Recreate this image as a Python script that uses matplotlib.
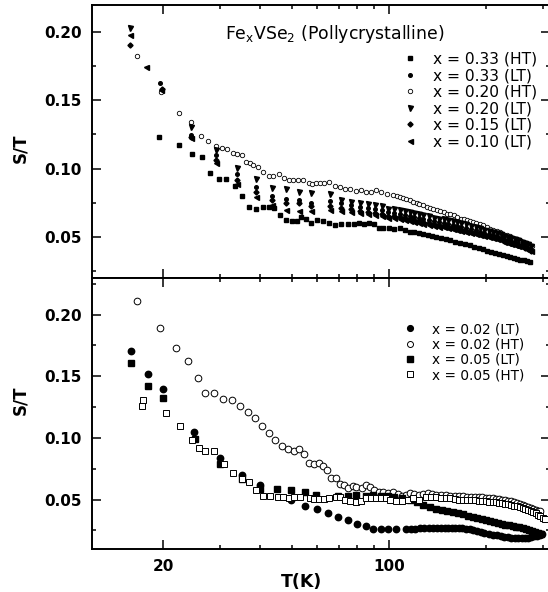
import matplotlib
matplotlib.use("Agg")
import matplotlib.pyplot as plt
from matplotlib.ticker import NullFormatter

# ---- top panel data : Fe_x VSe2, T (K) vs S/T ----
# x = 0.33 (HT), filled squares
ht033 = [(19.4, .1232), (22.3, .1176), (24.6, .1110), (26.4, .1081), (28.0, .0968), (29.7, .0921),
         (31.2, .0921), (33.3, .0872), (35.2, .0796), (36.8, .0718), (38.7, .0701), (40.7, .0718),
         (42.5, .0718), (44.0, .0708), (45.9, .0662), (48.0, .0620), (50.0, .0613), (51.8, .0613),
         (53.6, .0645), (55.3, .0632), (57.6, .0600), (60, .0625), (62.6, .0613), (65.5, .0600),
         (68, .0583), (71, .0590), (74.5, .0592), (78, .0596), (81, .0600), (84, .0596), (87, .0598),
         (90, .0590), (93, .0565), (96, .0562), (100, .0560), (104, .0558), (108, .0563), (112, .0548),
         (116, .0536), (120, .0533), (124, .0526), (128, .0522), (132, .0515), (136, .0503),
         (140, .0497), (145, .0488), (150, .0480), (155, .0472), (160, .0464), (166, .0455),
         (172, .0446), (178, .0436), (184, .0426), (190, .0416), (196, .0406), (202, .0397),
         (208, .0389), (214, .0381), (220, .0372), (226, .0364), (232, .0357), (238, .0351),
         (244, .0346), (250, .0339), (256, .0331), (262, .0325), (268, .0318), (274, .0313)]

# x = 0.20 (HT), open circles
ht020 = [(16.6, .1826), (19.7, .1563), (22.4, .1404), (24.3, .1343), (26.1, .1238), (27.6, .1203),
         (29.2, .1164), (30.4, .1152), (31.5, .1140), (32.8, .1115), (33.9, .1105), (35.0, .1098),
         (36.1, .1049), (37.1, .1037), (38.0, .1025), (39.2, .1012), (40.7, .0976), (42.4, .0944),
         (43.9, .0944), (45.6, .0956), (47.2, .0927), (48.9, .0914), (50.6, .0914), (52.3, .0914),
         (54.2, .0919), (56.5, .0890), (58.0, .0885), (59.6, .0895), (61.0, .0890), (63.2, .0895),
         (65.3, .0902), (68.0, .0875), (70.5, .0865), (73.3, .0853), (76.0, .0846), (79.0, .0836),
         (82.0, .0841), (85.0, .0828), (88.0, .0828), (91.0, .0841), (94.5, .0828), (99.0, .0816),
         (103, .0804), (106, .0797), (108, .0791), (111, .0785), (113, .0779), (116, .0768),
         (119, .0755), (122, .0748), (124.5, .0742), (128, .0730), (131, .0718), (134, .0712),
         (137.5, .0706), (141, .0697), (144, .0689), (148, .0679), (152, .0669), (155, .0663),
         (159, .0657), (163, .0645), (167, .0632), (171, .0626), (175, .0620), (179, .0614),
         (183, .0608), (187, .0602), (192, .0596), (196, .0584), (201, .0571), (206, .0559),
         (211, .0547), (216, .0541), (221, .0534), (226, .0522), (232, .0510), (237, .0502),
         (243, .0493), (249, .0483), (255, .0473), (261, .0463), (267, .0453), (272, .0442),
         (277, .0432)]

# low temperature (LT) samples, measured on a common temperature grid above 100 K
T_top_hi = [104, 108, 112, 116, 120, 124, 128, 133, 138, 143, 148, 153, 158, 163, 168, 174, 180,
            186, 192, 198, 204, 210, 216, 222, 228, 234, 240, 246, 252, 258, 264, 270, 276]

lt020 = [(15.8, .2029), (24.3, .1301), (29.2, .1135), (33.8, .1007), (38.7, .0926), (43.4, .0857),
         (47.9, .0846), (52.7, .0828), (57.5, .0822), (65.6, .0816), (71.3, .0767), (76.6, .0755),
         (81.3, .0745), (86.3, .0737), (90.5, .0730), (95.0, .0723), (99.5, .0706)]
lt020_hi = [.0700, .0693, .0688, .0681, .0672, .0665, .0657, .0648, .0640, .0632, .0626, .0620,
            .0612, .0605, .0598, .0590, .0580, .0570, .0560, .0552, .0542, .0533, .0525, .0516,
            .0507, .0498, .0490, .0482, .0472, .0463, .0452, .0443, .0432]

lt033 = [(19.6, .1629), (24.3, .1245), (29.2, .1098), (33.8, .0958), (38.7, .0865), (43.4, .0800),
         (47.9, .0776), (52.7, .0772), (57.5, .0750), (65.6, .0765), (71.3, .0745), (76.6, .0735),
         (81.3, .0720), (86.3, .0712), (90.5, .0705), (95.0, .0695), (99.5, .0680)]
lt033_hi = [.0672, .0665, .0658, .0650, .0642, .0635, .0628, .0620, .0612, .0604, .0597, .0590,
            .0583, .0576, .0569, .0561, .0553, .0545, .0537, .0528, .0519, .0510, .0501, .0493,
            .0484, .0475, .0466, .0457, .0448, .0439, .0428, .0415, .0400]

lt015 = [(15.8, .1907), (19.8, .1580), (24.3, .1230), (29.2, .1060), (33.8, .0914), (38.7, .0828),
         (43.4, .0769), (47.9, .0750), (52.7, .0745), (57.5, .0723), (65.6, .0725), (71.3, .0712),
         (76.6, .0700), (81.3, .0690), (86.3, .0682), (90.5, .0675), (95.0, .0668), (99.5, .0655)]
lt015_hi = [.0648, .0641, .0634, .0627, .0620, .0613, .0606, .0599, .0592, .0585, .0578, .0571,
            .0564, .0557, .0550, .0543, .0535, .0527, .0519, .0511, .0503, .0495, .0487, .0479,
            .0471, .0463, .0455, .0447, .0439, .0430, .0420, .0408, .0395]

lt010 = [(15.8, .1980), (17.7, .1743), (19.7, .1575), (24.3, .1225), (29.2, .1037), (33.8, .0885),
         (38.7, .0791), (43.4, .0730), (47.9, .0699), (52.7, .0690), (57.5, .0690), (65.6, .0693),
         (71.3, .0690), (76.6, .0680), (81.3, .0672), (86.3, .0665), (90.5, .0658), (95.0, .0650),
         (99.5, .0640)]
lt010_hi = [.0634, .0627, .0620, .0614, .0607, .0600, .0594, .0587, .0580, .0574, .0567, .0561,
            .0554, .0548, .0541, .0534, .0527, .0520, .0512, .0504, .0496, .0488, .0480, .0472,
            .0464, .0456, .0448, .0440, .0432, .0423, .0414, .0403, .0392]

# ---- bottom panel data ----
lt002 = [(15.9, .1706), (17.9, .1519), (19.96, .1398), (24.9, .1048), (29.9, .0839), (35.0, .0700),
         (39.8, .0619), (49.9, .0498), (54.9, .0450), (59.9, .0423), (64.8, .0391), (69.8, .0362),
         (75.0, .0337), (79.8, .0305), (84.8, .0284), (89.6, .0266), (94.8, .0262), (99.8, .0262),
         (105, .0265), (113, .0262), (117, .0262), (121, .0264), (125, .0267), (129, .0270),
         (133, .0272), (137, .0274), (141, .0274), (145, .0274), (149, .0272), (153, .0272),
         (157, .0272), (161, .0270), (165, .0270), (169, .0268), (173, .0266), (178, .0260),
         (183, .0253), (188, .0246), (193, .0238), (198, .0231), (204, .0224), (210, .0217),
         (216, .0210), (222, .0204), (228, .0199), (234, .0195), (240, .0192), (246, .0190),
         (252, .0189), (258, .0189), (264, .0190), (270, .0192), (276, .0196), (282, .0202),
         (288, .0209), (294, .0216), (298, .0220)]

ht002 = [(16.6, .2109), (19.5, .1894), (21.9, .1728), (23.9, .1626), (25.6, .1486), (27.0, .1362),
         (28.7, .1365), (30.6, .1317), (32.6, .1304), (34.7, .1258), (36.6, .1210), (38.6, .1161),
         (40.5, .1094), (42.4, .1040), (44.5, .0987), (46.7, .0933), (48.7, .0909), (50.8, .0895),
         (52.7, .0909), (54.7, .0869), (56.6, .0799), (58.6, .0788), (60.9, .0799), (62.5, .0775),
         (64.5, .0740), (66.4, .0678), (68.5, .0678), (70.5, .0627), (72.7, .0619), (74.8, .0593),
         (77.2, .0612), (79.4, .0606), (82.4, .0593), (84.9, .0619), (87.5, .0600), (90.0, .0579),
         (93.2, .0560), (96.0, .0563), (99.5, .0555), (103, .0560), (107, .0545), (110, .0531),
         (113, .0540), (116, .0555), (120, .0545), (124, .0540), (128, .0548), (132, .0552),
         (136, .0545), (140, .0540), (145, .0538), (150, .0535), (155, .0532), (160, .0530),
         (165, .0528), (170, .0527), (175, .0525), (180, .0525), (185, .0522), (190, .0520),
         (195, .0518), (200, .0515), (205, .0512), (210, .0510), (215, .0507), (220, .0503),
         (225, .0500), (230, .0495), (235, .0490), (240, .0485), (245, .0480), (250, .0473),
         (255, .0466), (260, .0458), (265, .0450), (270, .0442), (275, .0433), (280, .0425),
         (285, .0418), (290, .0410), (295, .0404)]

lt005 = [(15.9, .1604), (17.9, .1424), (19.96, .1325), (25.0, .0995), (29.9, .0788), (35.0, .0665),
         (39.8, .0585), (45.0, .0585), (49.7, .0580), (54.9, .0565), (59.6, .0535), (69.6, .0530),
         (74.8, .0530), (79.4, .0539), (84.9, .0530), (89.4, .0539), (94.7, .0530), (99.7, .0528),
         (104, .0525), (110, .0515), (116, .0498), (122, .0478), (128, .0460), (134, .0442),
         (140, .0428), (146, .0416), (152, .0405), (158, .0396), (164, .0388), (170, .0380),
         (176, .0370), (182, .0360), (188, .0350), (194, .0340), (200, .0332), (206, .0325),
         (212, .0318), (218, .0311), (224, .0304), (230, .0298), (236, .0293), (242, .0288),
         (248, .0282), (254, .0276), (260, .0270), (266, .0263), (272, .0256), (278, .0248),
         (284, .0240), (290, .0232), (296, .0224)]

ht005 = [(17.3, .1309), (17.2, .1255), (20.4, .1201), (22.6, .1097), (24.5, .0987), (25.8, .0915),
         (27.0, .0895), (28.7, .0895), (30.8, .0788), (32.9, .0713), (35.0, .0665), (36.8, .0641),
         (38.7, .0579), (40.7, .0530), (42.9, .0530), (45.3, .0525), (47.1, .0525), (49.1, .0512),
         (51.0, .0518), (53.0, .0525), (56.9, .0512), (58.8, .0504), (60.9, .0504), (63.0, .0504),
         (65.5, .0512), (68.5, .0525), (70.8, .0525), (73.4, .0498), (76.0, .0485), (79.0, .0477),
         (82.0, .0485), (85.0, .0512), (88.0, .0512), (91.0, .0512), (94.5, .0512), (98.0, .0512),
         (101, .0498), (105, .0485), (110, .0485), (115, .0498), (119, .0512), (124, .0498),
         (130, .0520), (135, .0522), (140, .0520), (145, .0515), (150, .0512), (155, .0510),
         (160, .0505), (165, .0500), (170, .0497), (175, .0495), (180, .0495), (185, .0493),
         (190, .0490), (195, .0487), (200, .0485), (205, .0483), (210, .0480), (215, .0478),
         (220, .0475), (225, .0472), (230, .0468), (235, .0463), (240, .0458), (245, .0452),
         (250, .0446), (255, .0440), (260, .0433), (265, .0425), (270, .0418), (275, .0410),
         (280, .0400), (285, .0390), (290, .0378), (295, .0365), (300, .0352), (305, .0343)]

x_major = [20, 100]
x_minor = [30, 40, 50, 60, 70, 80, 90, 200, 300]
y_major = [0.05, 0.10, 0.15, 0.20]
y_minor = [0.025, 0.075, 0.125, 0.175, 0.225]


def split(pts, extra_T=None, extra_S=None):
    T = [p[0] for p in pts]
    S = [p[1] for p in pts]
    if extra_T is not None:
        T += list(extra_T)
        S += list(extra_S)
    return T, S


def style_axes(ax, ylim, show_xlabels):
    ax.set_xscale('log')
    ax.set_xlim(12, 316)
    ax.set_ylim(*ylim)
    ax.set_xticks(x_major)
    ax.set_xticks(x_minor, minor=True)
    ax.xaxis.set_minor_formatter(NullFormatter())
    if show_xlabels:
        ax.set_xticklabels([str(v) for v in x_major])
    else:
        ax.set_xticklabels([])
    ax.set_yticks(y_major)
    ax.set_yticklabels(['%.2f' % v for v in y_major])
    ax.set_yticks([v for v in y_minor if ylim[0] < v < ylim[1]], minor=True)
    ax.tick_params(which='both', direction='in', top=True, right=True, width=1.1)
    ax.tick_params(which='major', length=6.5, pad=7, labelsize=11)
    ax.tick_params(which='minor', length=3.2)
    for lab in ax.get_xticklabels() + ax.get_yticklabels():
        lab.set_fontweight('bold')
    for s in ax.spines.values():
        s.set_linewidth(1.4)


fig = plt.figure(figsize=(5.48, 5.92), dpi=100)
ax1 = fig.add_axes([0.1673, 0.53125, 0.8363, 0.4603])
ax2 = fig.add_axes([0.1673, 0.07264, 0.8363, 0.45861])

k = dict(linestyle='none', color='black')
T, S = split(ht033)
ax1.plot(T, S, marker='s', ms=2.4, label='x = 0.33 (HT)', **k)
T, S = split(lt033, T_top_hi, lt033_hi)
ax1.plot(T, S, marker='o', ms=2.6, label='x = 0.33 (LT)', **k)
T, S = split(ht020)
ax1.plot(T, S, marker='o', ms=3.2, mfc='white', mew=0.6, label='x = 0.20 (HT)', **k)
T, S = split(lt020, T_top_hi, lt020_hi)
ax1.plot(T, S, marker='v', ms=3.6, label='x = 0.20 (LT)', **k)
T, S = split(lt015, T_top_hi, lt015_hi)
ax1.plot(T, S, marker='D', ms=2.6, label='x = 0.15 (LT)', **k)
T, S = split(lt010, T_top_hi, lt010_hi)
ax1.plot(T, S, marker='<', ms=3.6, label='x = 0.10 (LT)', **k)

T, S = split(lt002)
ax2.plot(T, S, marker='o', ms=4.6, label='x = 0.02 (LT)', **k)
T, S = split(ht002)
ax2.plot(T, S, marker='o', ms=4.8, mfc='white', mew=0.7, label='x = 0.02 (HT)', **k)
T, S = split(lt005)
ax2.plot(T, S, marker='s', ms=4.2, label='x = 0.05 (LT)', **k)
T, S = split(ht005)
ax2.plot(T, S, marker='s', ms=4.2, mfc='white', mew=0.7, label='x = 0.05 (HT)', **k)

style_axes(ax1, (0.02, 0.22), False)
style_axes(ax2, (0.01, 0.23), True)

ax1.legend(loc='upper left', bbox_to_anchor=(397.6 / 548, 1 - 51.6 / 592),
           bbox_transform=fig.transFigure, frameon=False, fontsize=11.2,
           handlelength=1.6, handletextpad=0.68, labelspacing=0.1,
           borderpad=0, borderaxespad=0, numpoints=1)
ax2.legend(loc='upper left', bbox_to_anchor=(399.1 / 548, 1 - 322.1 / 592),
           bbox_transform=fig.transFigure, frameon=False, fontsize=9.8,
           handlelength=1.6, handletextpad=0.8, labelspacing=0.1,
           borderpad=0, borderaxespad=0, numpoints=1, markerscale=0.9)

fig.text(335 / 548, 1 - 39.3 / 592,
         r'Fe$_{\mathregular{x}}$VSe$_{\mathregular{2}}$ (Pollycrystalline)',
         ha='center', va='baseline', fontsize=12.4)
fig.text(20 / 548, 1 - 148 / 592, 'S/T', rotation=90, ha='center', va='center',
         fontsize=12, fontweight='bold')
fig.text(20 / 548, 1 - 400 / 592, 'S/T', rotation=90, ha='center', va='center',
         fontsize=12, fontweight='bold')
fig.text(301.7 / 548, 1 - 582 / 592, 'T(K)', ha='center', va='center',
         fontsize=12.5, fontweight='bold')

fig.savefig('out.png', dpi=100)
